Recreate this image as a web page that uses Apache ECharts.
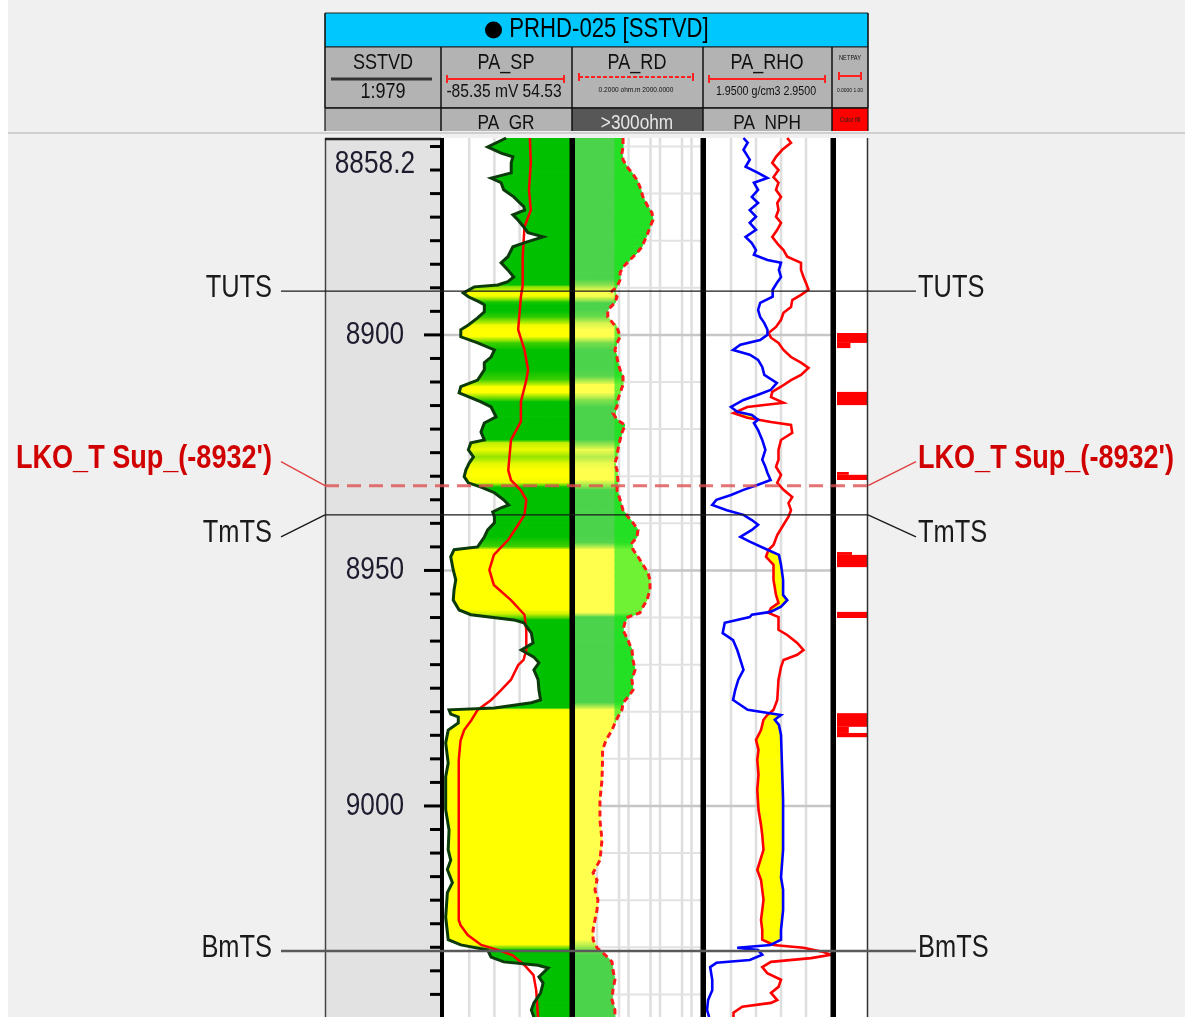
<!DOCTYPE html>
<html>
<head>
<meta charset="utf-8">
<script src="https://cdn.jsdelivr.net/npm/echarts@6/dist/echarts.min.js"></script>
<style>
html,body{margin:0;padding:0;background:#f0f0f0;}
#log{width:1185px;height:1017px;}
</style>
</head>
<body>
<div id="log"></div>
<script>
// ---------------- depth window (ft, SSTVD) ----------------
const depthTop = 8858.2;
const depthBase = 9044.8;

// ---------------- log curves: [depth, value] ----------------
// PA_GR (API)
const grLog = [[8858.2,74],[8858.6,72],[8860.1,52],[8861.4,68],[8862.2,82],[8863.5,80],[8865.6,80],[8866.7,56],[8867.7,68],[8869.2,71],[8870.7,83],[8872.8,95],[8873.5,96],[8874.5,82],[8875.6,88],[8877.1,95],[8878.3,100],[8879.2,118],[8880.3,98],[8881.3,82],[8883.4,76],[8884.7,68],[8886.2,76],[8887.7,83],[8888.7,76],[8889.4,64],[8889.8,36],[8891.1,23],[8891.9,29],[8893.0,42],[8893.6,48],[8895.1,48],[8896.4,40],[8897.9,29],[8898.9,20],[8900.4,20],[8901.7,40],[8903.2,60],[8904.7,56],[8905.9,48],[8907.4,48],[8909.6,40],[8911.0,20],[8912.3,18],[8914.2,44],[8915.3,56],[8917.4,62],[8918.7,48],[8920.6,44],[8922.3,48],[8922.9,32],[8924.4,29],[8925.9,35],[8927.2,30],[8928.7,26],[8930.1,24],[8931.4,29],[8932.3,44],[8933.5,60],[8935.0,71],[8936.1,77],[8936.7,68],[8937.6,58],[8938.6,60],[8939.9,60],[8941.4,52],[8942.9,48],[8945.0,40],[8945.6,12],[8947.1,8],[8949.9,11],[8952.0,14],[8954.1,12],[8956.3,11],[8958.4,18],[8959.4,32],[8960.5,83],[8961.1,95],[8963.3,104],[8965.4,106],[8966.9,92],[8968.4,107],[8969.6,113],[8971.1,107],[8973.2,112],[8975.4,113],[8977.5,115],[8978.1,104],[8979.2,60],[8979.6,6],[8980.5,8],[8981.1,17],[8982.4,17],[8983.9,5],[8986.6,2],[8990.9,5],[8993.8,2],[9000.8,2],[9005.1,6],[9009.3,5],[9011.5,8],[9013.5,4],[9016.3,10],[9018.4,4],[9023.6,2],[9028.4,5],[9029.5,20],[9030.6,52],[9032.1,56],[9033.1,71],[9033.8,112],[9034.4,124],[9036.3,113],[9037.6,118],[9039.7,115],[9041.8,107],[9043.3,104],[9044.8,107]];

// PA_SP (mV)
const spLog = [[8858.2,10],[8863.5,11],[8869.2,9],[8873.5,11],[8877.1,4],[8883.4,2],[8889.6,2],[8891.9,0],[8898.9,-3],[8903.2,4],[8907.4,8],[8909.6,6],[8914.2,0],[8918.4,0],[8922.3,-11],[8926.6,-13],[8928.7,-14],[8930.8,-11],[8933.0,0],[8935.0,6],[8938.2,4],[8940.3,-3],[8943.5,-14],[8946.7,-30],[8949.9,-35],[8953.1,-30],[8956.3,-11],[8959.4,4],[8962.6,6],[8966.9,6],[8969.0,3],[8970.1,-3],[8973.2,-11],[8975.4,-22],[8977.5,-33],[8979.6,-48],[8981.8,-55],[8983.9,-63],[8986.1,-67],[8990.3,-69],[9011.5,-69],[9024.2,-69],[9025.3,-67],[9027.4,-59],[9029.5,-44],[9030.6,-25],[9031.7,-9],[9033.8,4],[9035.9,14],[9039.1,17],[9044.8,19]];

// PA_RD (ohm.m)
const rdLog = [[8858.2,6.7],[8860.1,6.7],[8861.4,6.2],[8862.8,6.7],[8864.3,8.9],[8865.6,12.9],[8867.1,18.6],[8868.6,23.1],[8870.7,28.8],[8872.8,41.5],[8874.1,55.6],[8875.6,60],[8877.1,48],[8878.3,41.5],[8879.8,33.3],[8881.3,26.8],[8882.6,18.6],[8884.1,11.1],[8885.6,6.7],[8886.8,5.4],[8888.3,5.4],[8889.8,4.3],[8890.7,3.0],[8891.9,4.3],[8893.2,3.7],[8894.7,2.2],[8896.2,2.2],[8897.5,3.2],[8898.9,4.6],[8900.4,5.4],[8901.7,4.3],[8903.2,3.7],[8904.7,4.3],[8905.9,4.6],[8907.4,5.4],[8908.9,6.7],[8910.6,6.7],[8912.3,5.4],[8913.8,4.6],[8915.3,4.3],[8916.6,3.2],[8918.0,4.3],[8919.1,7.7],[8920.8,6.2],[8922.3,5.4],[8924.4,4.6],[8925.9,4.3],[8927.2,3.7],[8928.7,4.3],[8930.8,4.6],[8932.9,4.3],[8935.0,5.4],[8937.2,6.7],[8938.6,9.6],[8939.9,13.9],[8941.4,20.0],[8942.9,18.6],[8944.2,12.9],[8945.6,13.9],[8947.1,20.0],[8948.8,28.8],[8950.5,41.5],[8952.0,48],[8954.1,48],[8956.3,38.6],[8957.7,28.8],[8959.0,23.1],[8959.9,9.6],[8961.1,7.7],[8962.6,6.7],[8964.8,9.6],[8966.9,12.9],[8969.0,13.9],[8971.1,16.1],[8973.2,12.9],[8975.4,13.9],[8976.9,9.6],[8978.1,6.7],[8979.6,6.2],[8981.1,4.6],[8982.4,3.7],[8983.9,3.0],[8985.4,2.2],[8986.6,1.8],[8988.1,1.5],[8990.2,1.5],[8994.5,1.44],[8998.7,1.24],[9003.0,1.24],[9007.2,1.44],[9011.5,1.24],[9014.2,0.75],[9015.7,1.0],[9017.8,0.86],[9019.9,1.07],[9022.1,1.0],[9024.2,0.86],[9026.3,0.75],[9028.4,0.75],[9030.1,1.0],[9031.6,1.8],[9033.1,3.0],[9034.8,3.2],[9036.9,3.7],[9039.1,3.2],[9041.2,3.0],[9043.3,3.7],[9044.8,3.7]];

// PA_RHO (g/cm3)
const rhoLog = [[8858.2,2.60],[8859.2,2.63],[8860.7,2.56],[8862.2,2.51],[8863.5,2.48],[8865.0,2.53],[8866.5,2.49],[8867.7,2.53],[8869.2,2.51],[8870.7,2.55],[8872.0,2.52],[8873.5,2.53],[8874.9,2.51],[8876.2,2.55],[8877.7,2.52],[8879.2,2.48],[8880.9,2.53],[8882.0,2.57],[8883.4,2.60],[8884.7,2.71],[8886.2,2.71],[8887.7,2.73],[8889.0,2.75],[8890.4,2.77],[8891.5,2.71],[8892.6,2.64],[8894.1,2.63],[8895.3,2.57],[8896.8,2.55],[8898.3,2.51],[8899.6,2.45],[8900.6,2.47],[8901.7,2.53],[8903.2,2.57],[8904.7,2.63],[8905.9,2.71],[8907.0,2.77],[8908.5,2.71],[8909.6,2.63],[8911.0,2.55],[8912.1,2.48],[8913.2,2.47],[8914.4,2.57],[8915.3,2.28],[8916.6,2.17],[8917.6,2.28],[8918.5,2.47],[8919.1,2.63],[8920.8,2.64],[8922.3,2.55],[8924.4,2.53],[8926.5,2.53],[8928.0,2.51],[8929.7,2.55],[8931.4,2.52],[8932.9,2.57],[8934.4,2.64],[8935.7,2.61],[8937.2,2.63],[8938.6,2.61],[8940.3,2.57],[8942.5,2.52],[8944.6,2.49],[8945.6,2.45],[8947.1,2.43],[8948.8,2.49],[8952.0,2.49],[8955.2,2.51],[8956.9,2.53],[8958.0,2.47],[8959.0,2.45],[8959.9,2.53],[8962.6,2.53],[8963.7,2.60],[8965.4,2.68],[8966.9,2.73],[8967.9,2.68],[8969.0,2.57],[8970.5,2.55],[8973.2,2.53],[8977.5,2.52],[8979.6,2.49],[8980.7,2.44],[8981.7,2.41],[8983.9,2.39],[8986.0,2.35],[8988.1,2.37],[8990.2,2.36],[8993.4,2.37],[8996.6,2.36],[9000.8,2.37],[9004.0,2.39],[9006.2,2.40],[9009.3,2.41],[9013.6,2.36],[9015.7,2.39],[9017.8,2.40],[9019.9,2.41],[9022.1,2.40],[9024.2,2.39],[9026.3,2.40],[9028.4,2.40],[9029.5,2.49],[9030.1,2.73],[9031.0,2.89],[9031.6,2.95],[9032.3,2.79],[9033.1,2.47],[9034.2,2.40],[9035.5,2.44],[9036.9,2.55],[9038.4,2.53],[9039.7,2.47],[9041.2,2.52],[9041.8,2.47],[9042.6,2.24],[9043.9,2.17],[9044.8,2.17]];

// PA_NPH (v/v)
const nphLog = [[8858.2,0.27],[8859.2,0.25],[8860.7,0.27],[8862.8,0.24],[8864.3,0.26],[8865.6,0.20],[8866.7,0.155],[8867.7,0.22],[8869.2,0.20],[8870.7,0.23],[8872.0,0.20],[8873.5,0.24],[8874.9,0.21],[8876.2,0.24],[8877.7,0.21],[8879.2,0.26],[8880.5,0.23],[8882.0,0.21],[8883.0,0.22],[8884.1,0.155],[8884.7,0.09],[8886.2,0.10],[8887.7,0.09],[8889.0,0.11],[8890.4,0.13],[8891.9,0.13],[8893.2,0.19],[8894.7,0.20],[8896.2,0.19],[8897.5,0.17],[8898.9,0.155],[8900.0,0.155],[8901.1,0.19],[8902.1,0.285],[8903.2,0.32],[8904.2,0.24],[8905.3,0.20],[8906.8,0.18],[8908.5,0.17],[8910.2,0.11],[8911.7,0.14],[8912.7,0.20],[8913.8,0.27],[8915.3,0.33],[8916.3,0.30],[8917.0,0.23],[8918.0,0.20],[8918.7,0.22],[8920.2,0.20],[8922.3,0.18],[8924.4,0.165],[8926.5,0.18],[8928.0,0.165],[8929.3,0.155],[8930.8,0.14],[8931.8,0.20],[8932.9,0.27],[8934.0,0.33],[8935.0,0.40],[8936.1,0.42],[8937.2,0.35],[8938.2,0.27],[8939.3,0.23],[8940.3,0.20],[8941.4,0.23],[8942.9,0.285],[8943.9,0.24],[8945.6,0.155],[8946.7,0.10],[8948.8,0.09],[8952.0,0.08],[8955.2,0.08],[8956.3,0.06],[8957.7,0.09],[8958.8,0.14],[8959.4,0.23],[8959.9,0.24],[8961.1,0.36],[8963.3,0.37],[8964.8,0.32],[8966.9,0.30],[8969.0,0.285],[8971.1,0.27],[8973.2,0.295],[8975.4,0.31],[8977.5,0.32],[8979.6,0.25],[8980.7,0.09],[8981.7,0.12],[8982.8,0.10],[8984.9,0.09],[8998.7,0.08],[9009.3,0.08],[9015.1,0.09],[9017.8,0.08],[9022.1,0.08],[9026.3,0.09],[9028.4,0.09],[9029.5,0.14],[9030.1,0.30],[9030.6,0.20],[9031.6,0.18],[9032.7,0.24],[9033.3,0.40],[9034.2,0.43],[9036.9,0.42],[9039.1,0.42],[9041.2,0.44],[9043.3,0.445],[9044.8,0.435]];

// NETPAY flag intervals: [top, base, flag]
const netPay = [[8899.6,8901.7,1],[8901.7,8902.8,0.45],[8912.1,8914.9,1],[8929.1,8929.7,0.4],[8929.7,8930.8,1],[8946.1,8946.7,0.5],[8946.7,8949.3,1],[8958.8,8960.1,1],[8980.3,8983.2,1],[8983.2,8984.5,0.4],[8984.5,8985.4,1]];

// formation tops
const topNames = ['TUTS', "LKO_T Sup_(-8932')", 'TmTS', 'BmTS'];
const topDepths = [8890.7, 8932, 8938.2, 9030.8];

// depth annotations
const depthLabels = [8858.2, 8900, 8950, 9000];
const majorDepths = [8900, 8950, 9000];

// grid values per track
const grGridValues = [30, 60, 90, 120];
const rdGridValues = [1, 5, 10, 50, 100, 500, 1000];
const rhoGridValues = [2.15, 2.35, 2.55, 2.75];

// ---------------- scales ----------------
const GR_MIN = 0, GR_MAX = 150;
const SP_MIN = -85.35, SP_MAX = 54.53;
const RD_MIN = 0.2, RD_MAX = 2000, RD_SPLIT = 3.7;
const RHO_MIN = 1.95, RHO_MAX = 2.95;
const NPH_LEFT = 0.45, NPH_RIGHT = -0.15;
const GR_SAND_CUT = 28, GR_SHALE_CUT = 44;

// Arial-metric face squeezed horizontally to a narrow cut
const FONT = '"Liberation Sans",Arial,sans-serif';
const NARROW = 0.82;
const BODY_TOP = 138, BODY_H = 879;

// ---------------- helpers ----------------
const lerp = (a, b, t) => a + (b - a) * t;
const rgb = c => 'rgb(' + c.map(Math.round).join(',') + ')';
const blend = (c1, c2, t) => [0, 1, 2].map(i => lerp(c1[i], c2[i], t));
const SAND = [255, 255, 0], SHALE = [0, 192, 0];
const SAND_RD = [255, 255, 78], SHALE_RD = [76, 211, 76];
const SAND_RD_HI = [112, 242, 52], SHALE_RD_HI = [36, 224, 36];
function shaleFrac(gr) { return Math.min(1, Math.max(0, (gr - GR_SAND_CUT) / (GR_SHALE_CUT - GR_SAND_CUT))); }
function valueAt(log, d) {
  if (d <= log[0][0]) return log[0][1];
  for (let i = 1; i < log.length; i++) {
    if (d <= log[i][0]) {
      const span = log[i][0] - log[i - 1][0];
      const t = span > 0 ? (d - log[i - 1][0]) / span : 1;
      return lerp(log[i - 1][1], log[i][1], t);
    }
  }
  return log[log.length - 1][1];
}
const vGrad = (c0, c1) => new echarts.graphic.LinearGradient(0, 0, 0, 1, [{offset: 0, color: c0}, {offset: 1, color: c1}]);
const toXY = log => log.map(p => [p[1], p[0]]);
const segments = log => log.slice(0, -1).map((p, i) => [p[1], p[0], log[i + 1][1], log[i + 1][0]]);
const nphOnRho = v => RHO_MIN + (NPH_LEFT - v) / (NPH_LEFT - NPH_RIGHT) * (RHO_MAX - RHO_MIN);

// text element anchored at (x, y), narrowed about its anchor
function narrowText(text, x, y, size, color, align, weight, z) {
  return {
    type: 'text', x, y, scaleX: NARROW, scaleY: 1, originX: 0, originY: 0, z: z || 40,
    style: {
      text, x: 0, y: 0, fill: color || '#111',
      font: (weight || 'normal') + ' ' + size + 'px ' + FONT,
      align: align || 'center', verticalAlign: 'middle',
      textAlign: align || 'center', textVerticalAlign: 'middle'
    }
  };
}

const depthTicks = [];
for (let d = 8860; d <= 9040; d += 5) depthTicks.push(d);
const tenFootLines = [];
for (let d = 8860; d <= 9040; d += 10) if (majorDepths.indexOf(d) < 0) tenFootLines.push(d);

// neutron-density crossover on a shared depth list
const xoverDepths = Array.from(new Set(rhoLog.map(p => p[0]).concat(nphLog.map(p => p[0])))).sort((a, b) => a - b);
const xoverSegs = xoverDepths.slice(0, -1).map((d, i) => {
  const e = xoverDepths[i + 1];
  return [valueAt(rhoLog, d), nphOnRho(valueAt(nphLog, d)), d, valueAt(rhoLog, e), nphOnRho(valueAt(nphLog, e)), e];
});

// ---------------- layout ----------------
const tracks = [
  {left: 325, width: 116, bg: '#e2e2e2'},   // depth
  {left: 444, width: 126, bg: '#ffffff'},   // SP / GR
  {left: 575, width: 126, bg: '#ffffff'},   // RD
  {left: 706, width: 125, bg: '#ffffff'},   // RHO / NPH
  {left: 836, width: 32, bg: '#ffffff'},    // NETPAY
  {left: 0, width: 1185, bg: 'transparent'} // tops overlay
];
const grids = tracks.map(t => ({left: t.left, top: BODY_TOP, width: t.width, height: BODY_H, show: t.bg !== 'transparent', backgroundColor: t.bg, borderWidth: 0}));
const hidden = {show: false};
const xAxes = [
  Object.assign({gridIndex: 0, type: 'value', min: 0, max: 1}, hidden),
  Object.assign({gridIndex: 1, type: 'value', min: GR_MIN, max: GR_MAX}, hidden),
  Object.assign({gridIndex: 1, type: 'value', min: SP_MIN, max: SP_MAX}, hidden),
  Object.assign({gridIndex: 2, type: 'log', min: RD_MIN, max: RD_MAX, logBase: 10}, hidden),
  Object.assign({gridIndex: 3, type: 'value', min: RHO_MIN, max: RHO_MAX}, hidden),
  Object.assign({gridIndex: 3, type: 'value', min: NPH_RIGHT, max: NPH_LEFT, inverse: true}, hidden),
  Object.assign({gridIndex: 4, type: 'value', min: 0, max: 1}, hidden),
  Object.assign({gridIndex: 5, type: 'value', min: 0, max: 1185}, hidden)
];
const yAxes = [0, 1, 2, 3, 4, 5].map(g => Object.assign({gridIndex: g, type: 'value', min: depthTop, max: depthBase, inverse: true}, hidden));

function vGridSeries(xi, yi, values, color, width) {
  return {
    type: 'custom', xAxisIndex: xi, yAxisIndex: yi, z: 1, silent: true, clip: true,
    data: values.map(v => [v, depthTop, depthBase]),
    encode: {x: 0, y: [1, 2]},
    renderItem(p, api) {
      const a = api.coord([api.value(0), api.value(1)]);
      const b = api.coord([api.value(0), api.value(2)]);
      return {type: 'line', shape: {x1: a[0], y1: a[1], x2: b[0], y2: b[1]}, style: {stroke: color, lineWidth: width}};
    }
  };
}
function hGridSeries(xi, yi, lo, hi, depths, color, width) {
  return {
    type: 'custom', xAxisIndex: xi, yAxisIndex: yi, z: 1, silent: true, clip: true,
    data: depths.map(d => [lo, d, hi]),
    encode: {x: [0, 2], y: 1},
    renderItem(p, api) {
      const a = api.coord([api.value(0), api.value(1)]);
      const b = api.coord([api.value(2), api.value(1)]);
      return {type: 'line', shape: {x1: a[0], y1: a[1], x2: b[0], y2: b[1]}, style: {stroke: color, lineWidth: width}};
    }
  };
}
function curve(name, xi, yi, log, color, width, dash) {
  return {
    name, type: 'line', xAxisIndex: xi, yAxisIndex: yi, z: 3, silent: true, clip: true,
    data: toXY(log), symbol: 'none', showSymbol: false,
    lineStyle: {color, width, type: dash || 'solid', join: 'miter'}
  };
}

const topStyle = {
  'TUTS': {lift: 0, color: '#1a1a1a', width: 1.3, dash: null, text: '#1a1a1a', weight: 'normal', size: 31},
  "LKO_T Sup_(-8932')": {lift: 24, color: 'rgba(222,80,80,0.8)', width: 3, dash: [14, 8], text: '#d10000', weight: 'bold', leader: '#e04040', size: 33},
  'TmTS': {lift: -22, color: '#1a1a1a', width: 1.3, dash: null, text: '#1a1a1a', weight: 'normal', size: 31},
  'BmTS': {lift: 0, color: '#5a5a5a', width: 2.5, dash: null, text: '#1a1a1a', weight: 'normal', size: 31}
};

const series = [
  // grid lines
  vGridSeries(1, 1, grGridValues, '#dedede', 2.5),
  hGridSeries(1, 1, GR_MIN, GR_MAX, majorDepths, '#c6c6c6', 2.5),
  vGridSeries(3, 2, rdGridValues, '#dedede', 2.5),
  hGridSeries(3, 2, RD_MIN, RD_MAX, tenFootLines, '#e2e2e2', 2),
  hGridSeries(3, 2, RD_MIN, RD_MAX, majorDepths, '#c6c6c6', 2.5),
  vGridSeries(4, 3, rhoGridValues, '#dedede', 2.5),
  hGridSeries(4, 3, RHO_MIN, RHO_MAX, majorDepths, '#c6c6c6', 2.5),

  // GR shading: curve to right edge, sand (yellow) to shale (green)
  {
    type: 'custom', xAxisIndex: 1, yAxisIndex: 1, z: 2, silent: true, clip: true,
    data: segments(grLog), encode: {x: [0, 2], y: [1, 3]},
    renderItem(p, api) {
      const a = api.coord([api.value(0), api.value(1)]);
      const b = api.coord([api.value(2), api.value(3)]);
      const ra = api.coord([GR_MAX, api.value(1)]);
      const rb = api.coord([GR_MAX, api.value(3)]);
      const g = vGrad(rgb(blend(SAND, SHALE, shaleFrac(api.value(0)))), rgb(blend(SAND, SHALE, shaleFrac(api.value(2)))));
      return {type: 'polygon', shape: {points: [a, ra, rb, b]}, style: {fill: g, stroke: g, lineWidth: 1}};
    }
  },

  // resistivity shading, tinted by GR
  {
    type: 'custom', xAxisIndex: 3, yAxisIndex: 2, z: 2, silent: true, clip: true,
    data: segments(rdLog), encode: {x: [0, 2], y: [1, 3]},
    renderItem(p, api) {
      const d0 = api.value(1), d1 = api.value(3);
      const p0 = api.coord([api.value(0), d0]), p1 = api.coord([api.value(2), d1]);
      const left = api.coord([RD_MIN, d0])[0];
      const cut = api.coord([RD_SPLIT, d0])[0];
      const s0 = shaleFrac(valueAt(grLog, d0)), s1 = shaleFrac(valueAt(grLog, d1));
      const gIn = vGrad(rgb(blend(SAND_RD, SHALE_RD, s0)), rgb(blend(SAND_RD, SHALE_RD, s1)));
      const children = [{
        type: 'polygon',
        shape: {points: [[left, p0[1]], [Math.min(p0[0], cut), p0[1]], [Math.min(p1[0], cut), p1[1]], [left, p1[1]]]},
        style: {fill: gIn, stroke: gIn, lineWidth: 1}
      }];
      if (p0[0] > cut || p1[0] > cut) {
        const gOut = vGrad(rgb(blend(SAND_RD_HI, SHALE_RD_HI, s0)), rgb(blend(SAND_RD_HI, SHALE_RD_HI, s1)));
        children.push({
          type: 'polygon',
          shape: {points: [[cut, p0[1]], [Math.max(p0[0], cut), p0[1]], [Math.max(p1[0], cut), p1[1]], [cut, p1[1]]]},
          style: {fill: gOut, stroke: gOut, lineWidth: 1}
        });
      }
      return {type: 'group', children};
    }
  },

  // neutron-density crossover fill
  {
    type: 'custom', xAxisIndex: 4, yAxisIndex: 3, z: 2, silent: true, clip: true,
    data: xoverSegs, encode: {x: [0, 1, 3, 4], y: [2, 5]},
    renderItem(p, api) {
      const r0 = api.coord([api.value(0), api.value(2)]), n0 = api.coord([api.value(1), api.value(2)]);
      const r1 = api.coord([api.value(3), api.value(5)]), n1 = api.coord([api.value(4), api.value(5)]);
      const a0 = n0[0] - r0[0], a1 = n1[0] - r1[0];
      let pts = null;
      if (a0 > 0 && a1 > 0) pts = [r0, n0, n1, r1];
      else if (a0 > 0 || a1 > 0) {
        const t = a0 / (a0 - a1);
        const c = [r0[0] + t * (r1[0] - r0[0]), r0[1] + t * (r1[1] - r0[1])];
        pts = a0 > 0 ? [r0, n0, c] : [c, n1, r1];
      }
      if (!pts) return {type: 'group', children: []};
      return {type: 'polygon', shape: {points: pts}, style: {fill: '#ffff00', stroke: '#ffff00', lineWidth: 0.8}};
    }
  },

  // NETPAY flags
  {
    type: 'custom', xAxisIndex: 6, yAxisIndex: 4, z: 2, silent: true, clip: true,
    data: netPay, encode: {x: 2, y: [0, 1]},
    renderItem(p, api) {
      const a = api.coord([0, api.value(0)]);
      const b = api.coord([api.value(2), api.value(1)]);
      return {type: 'rect', shape: {x: a[0] + 1, y: a[1], width: b[0] - a[0] - 1, height: b[1] - a[1]}, style: {fill: '#ff0000'}};
    }
  },

  // curves
  curve('PA_SP', 2, 1, spLog, '#ff0000', 2.5),
  curve('PA_GR', 1, 1, grLog, '#0b3a0b', 3),
  curve('PA_RD', 3, 2, rdLog, '#ff1a1a', 3, [6, 4]),
  curve('PA_RHO', 4, 3, rhoLog, '#ff0000', 2.6),
  curve('PA_NPH', 5, 3, nphLog, '#0000ff', 2.6),

  // depth ticks
  {
    type: 'custom', xAxisIndex: 0, yAxisIndex: 0, z: 4, silent: true,
    data: depthTicks.map(d => [1, d]), encode: {x: 0, y: 1},
    renderItem(p, api) {
      const d = api.value(1);
      const pt = api.coord([1, d]);
      const len = majorDepths.indexOf(d) >= 0 ? 17 : 11;
      return {type: 'line', shape: {x1: pt[0] - len, y1: pt[1], x2: pt[0], y2: pt[1]}, style: {stroke: '#000', lineWidth: 3}};
    }
  },
  // depth labels
  {
    type: 'custom', xAxisIndex: 0, yAxisIndex: 0, z: 4, silent: true,
    data: depthLabels.map(d => [0.43, d]), encode: {x: 0, y: 1},
    renderItem(p, api) {
      const d = api.value(1);
      const pt = api.coord([api.value(0), d]);
      return narrowText(String(d), pt[0], pt[1] + (d === depthTop ? 26 : 0), 32, '#1c1c2e', 'center', 'normal', 4);
    }
  },

  // formation tops
  {
    type: 'custom', xAxisIndex: 7, yAxisIndex: 5, z: 25, silent: true, clip: false,
    data: topDepths.map((d, i) => [i, d]), encode: {x: 0, y: 1},
    renderItem(p, api) {
      const name = topNames[p.dataIndex];
      const st = topStyle[name];
      const y = api.coord([0, api.value(1)])[1];
      const ly = y - st.lift;
      const leader = st.leader || st.color;
      const lw = st.leader ? 1.3 : st.width;
      return {
        type: 'group',
        children: [
          {type: 'line', shape: {x1: 325, y1: y, x2: 868, y2: y}, style: {stroke: st.color, lineWidth: st.width, lineDash: st.dash}},
          {type: 'line', shape: {x1: 281, y1: ly, x2: 325, y2: y}, style: {stroke: leader, lineWidth: lw}},
          {type: 'line', shape: {x1: 868, y1: y, x2: 916, y2: ly}, style: {stroke: leader, lineWidth: lw}},
          narrowText(name, 272, ly - 3, st.size, st.text, 'right', st.weight, 25),
          narrowText(name, 918, ly - 3, st.size, st.text, 'left', st.weight, 25)
        ]
      };
    }
  }
];

// ---------------- frame & header ----------------
function txt(text, x, y, size, color) {
  return narrowText(text, x, y, size, color, 'center', 'normal', 40);
}
function ln(x1, y1, x2, y2, color, width, z, dash) {
  return {type: 'line', z: z || 40, shape: {x1, y1, x2, y2}, style: {stroke: color, lineWidth: width, lineDash: dash || null}};
}
function rc(x, y, w, h, fill, z, stroke) {
  return {type: 'rect', z: z || 35, shape: {x, y, width: w, height: h}, style: {fill, stroke: stroke || null, lineWidth: stroke ? 1 : 0}};
}
function scaleBar(x1, x2, y, dash) {
  return [ln(x1, y, x2, y, '#ff2020', 2, 41, dash), ln(x1, y - 4, x1, y + 4, '#ff2020', 2, 41), ln(x2, y - 4, x2, y + 4, '#ff2020', 2, 41)];
}

const graphic = [
  rc(0, 0, 8, 1017, '#ffffff', 0),
  // log frame
  ln(325.5, BODY_TOP, 325.5, 1017, '#444', 1.5, 20),
  ln(325, BODY_TOP + 1, 441, BODY_TOP + 1, '#222', 2.5, 20),
  rc(440, BODY_TOP, 4, BODY_H, '#000', 20),
  rc(569.5, BODY_TOP, 5.5, BODY_H, '#000', 20),
  rc(700.5, BODY_TOP, 5.5, BODY_H, '#000', 20),
  rc(830.5, BODY_TOP, 5.5, BODY_H, '#000', 20),
  ln(867.5, BODY_TOP, 867.5, 1017, '#333', 1.5, 20),

  // header
  rc(325, 13, 543, 34, '#00c8ff', 35, '#222'),
  rc(325, 47, 543, 61, '#b3b3b3', 35, '#222'),
  rc(325, 108, 116, 23, '#b3b3b3', 35),
  rc(441, 108, 131, 23, '#b3b3b3', 35),
  rc(572, 108, 131, 23, '#575757', 35),
  rc(703, 108, 129, 23, '#b3b3b3', 35),
  rc(832, 108, 36, 23, '#ff0000', 35),
  ln(325, 108, 868, 108, '#111', 1.5),
  ln(441, 47, 441, 131, '#111', 1.5),
  ln(572, 47, 572, 131, '#111', 1.5),
  ln(703, 47, 703, 131, '#111', 1.5),
  ln(832, 47, 832, 131, '#111', 1.5),
  ln(325, 13, 325, 131, '#111', 1.2),
  ln(868, 13, 868, 131, '#111', 1.2),

  {type: 'circle', z: 40, shape: {cx: 493.5, cy: 30, r: 8.5}, style: {fill: '#000'}},
  txt('PRHD-025 [SSTVD]', 609, 30, 27, '#000'),

  txt('SSTVD', 383, 63, 22),
  ln(331, 79, 432, 79, '#333', 3),
  txt('1:979', 383, 92, 22),

  txt('PA_SP', 506, 63, 22),
  ...scaleBar(447, 564, 79),
  txt('-85.35 mV 54.53', 504, 92, 19),

  txt('PA_RD', 637, 63, 22),
  ...scaleBar(579, 693, 77, [4, 2]),
  txt('0.2000 ohm.m 2000.0000', 636, 90, 8),

  txt('PA_RHO', 767, 63, 22),
  ...scaleBar(709, 825, 79),
  txt('1.9500 g/cm3 2.9500', 766, 91, 13),

  txt('NETPAY', 850, 58, 7),
  ...scaleBar(839, 861, 76),
  txt('0.0000 1.00', 850, 90, 6),

  txt('PA_GR', 506, 123, 21),
  txt('>300ohm', 637, 123, 21, '#e6e6e6'),
  txt('PA_NPH', 767, 123, 21),
  txt('Color fill', 850, 120, 7, '#222'),
  rc(320, 131, 560, 6, '#f0f0f0', 45),
  ln(8, 133, 1185, 133, '#cfcfcf', 2, 46)
];

const chart = echarts.init(document.getElementById('log'), null, {renderer: 'canvas'});
chart.setOption({
  backgroundColor: '#f0f0f0',
  animation: false,
  grid: grids,
  xAxis: xAxes,
  yAxis: yAxes,
  series,
  graphic
});
</script>
</body>
</html>
